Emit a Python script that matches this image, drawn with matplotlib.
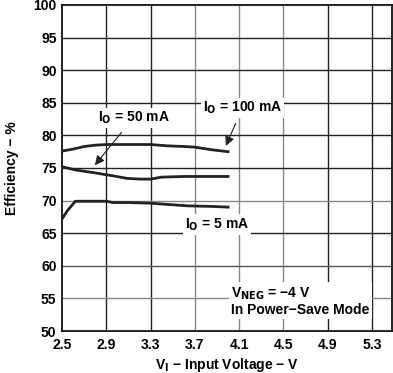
import numpy as np
import matplotlib
matplotlib.use('Agg')
import matplotlib.pyplot as plt

plt.rcParams['font.family'] = ['Liberation Sans', 'DejaVu Sans']
plt.rcParams['font.weight'] = 'bold'

# data
vi_100 = [2.5, 2.6, 2.7, 2.8, 2.9, 3.1, 3.3, 3.45, 3.6, 3.7, 3.85, 4.0]
eff_100 = [77.6, 77.9, 78.3, 78.5, 78.6, 78.6, 78.6, 78.4, 78.3, 78.2, 77.8, 77.5]

vi_50 = [2.5, 2.62, 2.78, 2.96, 3.09, 3.2, 3.3, 3.4, 3.6, 3.8, 4.0]
eff_50 = [75.2, 74.7, 74.3, 73.8, 73.4, 73.3, 73.3, 73.6, 73.7, 73.7, 73.7]

vi_5 = [2.5, 2.55, 2.62, 2.75, 2.9, 2.96, 3.11, 3.3, 3.38, 3.63, 3.86, 4.0]
eff_5 = [67.2, 68.5, 69.9, 69.9, 69.9, 69.7, 69.7, 69.6, 69.5, 69.2, 69.1, 69.0]

xticks = [2.5, 2.9, 3.3, 3.7, 4.1, 4.5, 4.9, 5.3]
yticks = [50, 55, 60, 65, 70, 75, 80, 85, 90, 95, 100]

fig = plt.figure(figsize=(3.93, 3.73), dpi=100)
ax = fig.add_axes([0.158, 0.1126, 0.839, 0.874])

# grid lines (scan shows a mix of dark and grey lines)
vcol = ['#222222', '#222222', '#888888', '#888888', '#888888', '#222222', '#222222']
for x, c in zip(xticks[1:], vcol):
    ax.axvline(x, color=c, lw=1.0, zorder=1)
hcol = ['#888888', '#555555', '#222222', '#888888', '#222222', '#222222',
        '#222222', '#222222', '#222222']
for y, c in zip(yticks[1:-1], hcol):
    ax.axhline(y, color=c, lw=1.0, zorder=1)

ax.plot(vi_100, eff_100, color='#222222', lw=2.0, zorder=3)
ax.plot(vi_50, eff_50, color='#222222', lw=2.0, zorder=3)
ax.plot(vi_5, eff_5, color='#222222', lw=2.0, zorder=3)

ax.set_xlim(2.5, 5.48)
ax.set_ylim(50, 100)
ax.set_xticks(xticks)
ax.set_xticklabels([f'{v:.1f}' for v in xticks])
ax.set_yticks(yticks)
ax.tick_params(length=0, labelsize=10)
ax.tick_params(axis='x', pad=5)
ax.tick_params(axis='y', pad=4)
for s in ax.spines.values():
    s.set_linewidth(1.3)
    s.set_color('#111111')

ax.set_xlabel('V$_\\mathbf{I}$ \u2212 Input Voltage \u2212 V', fontsize=10, fontweight='bold')
ax.xaxis.set_label_coords(0.5, -0.078, transform=ax.transAxes)
ax.xaxis.label.set_va('top')
ax.set_ylabel('Efficiency \u2212 %', fontsize=10, fontweight='bold', labelpad=10)

box = dict(facecolor='white', edgecolor='none', pad=1.5)
arrow = dict(arrowstyle='-|>', color='#222222', lw=0.8, mutation_scale=14)
ax.annotate('I$_\\mathbf{O}$ = 50 mA', xy=(2.78, 75.1), xytext=(2.82, 82.7),
            ha='left', va='center', fontsize=10, fontweight='bold', bbox=box,
            arrowprops=dict(arrow, shrinkA=4), zorder=4)
ax.annotate('I$_\\mathbf{O}$ = 100 mA', xy=(3.97, 78.0), xytext=(3.77, 84.2),
            ha='left', va='center', fontsize=10, fontweight='bold', bbox=box,
            arrowprops=dict(arrow, shrinkA=4), zorder=4)
ax.text(3.61, 66.3, 'I$_\\mathbf{O}$ = 5 mA', ha='left', va='center',
        fontsize=10, fontweight='bold', bbox=box, zorder=4)
ax.text(4.03, 54.6, 'V$_\\mathbf{NEG}$ = \u22124 V\nIn Power\u2212Save Mode', ha='left',
        va='center', fontsize=10, fontweight='bold', linespacing=1.1,
        bbox=box, zorder=4)

fig.savefig('out.png', dpi=100)
